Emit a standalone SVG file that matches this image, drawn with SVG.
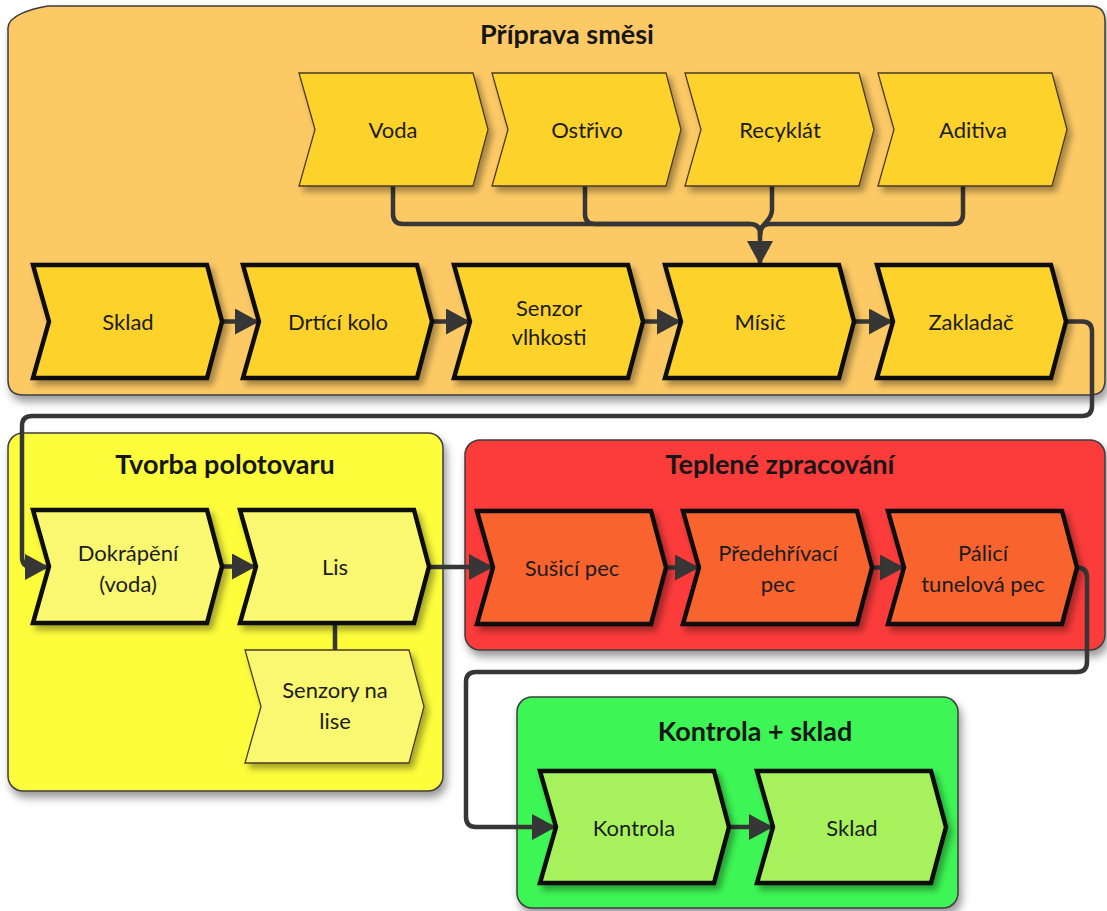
<svg xmlns="http://www.w3.org/2000/svg" width="1107" height="911" viewBox="0 0 1107 911">
  <defs>
    <filter id="shNode" x="-10%" y="-10%" width="130%" height="140%">
      <feDropShadow dx="4" dy="5" stdDeviation="3" flood-color="#000" flood-opacity="0.35"/>
    </filter>
    <filter id="shBox" x="-5%" y="-5%" width="115%" height="120%">
      <feDropShadow dx="3" dy="6" stdDeviation="4" flood-color="#000" flood-opacity="0.4"/>
    </filter>
    <marker id="arr" markerUnits="userSpaceOnUse" markerWidth="24" markerHeight="26" refX="24" refY="13" orient="auto">
      <path d="M0,0 L24,13 L0,26 Z" fill="#363636"/>
    </marker>
    <style>
      .box { stroke: #3c3c3c; stroke-width: 1.5; filter: url(#shBox); }
      .ttl { font-family: Lato, "Liberation Sans", sans-serif; font-weight: bold; font-size: 27px; fill: #161616; text-anchor: middle; }
      .lbl { font-family: Lato, "Liberation Sans", sans-serif; font-size: 22px; fill: #1c1c1c; text-anchor: middle; }
      .thick { stroke: #0d0d0d; stroke-width: 4.5; stroke-linejoin: miter; filter: url(#shNode); }
      .thin { stroke: #4a3a28; stroke-width: 1.3; filter: url(#shNode); }
      .mix { fill: #FDD22B; }
      .pre { fill: #F9F86F; }
      .heat { fill: #F9642F; }
      .chk { fill: #A7F25C; }
      .conn { fill: none; stroke: #363636; stroke-width: 4.5; stroke-linejoin: round; }
    </style>
  </defs>

  <!-- process areas -->
  <g id="area-priprava">
    <path class="box" fill="#FCC965" d="M8,28 C8,16 30,9 48,6 H1090 Q1105,6 1105,21 V380 Q1105,395 1090,395 H23 Q8,395 8,380 Z"/>
    <text class="ttl" x="567" y="44">Příprava směsi</text>
  </g>
  <g id="area-tvorba">
    <rect class="box" fill="#FDFD3A" x="8" y="433" width="435" height="358" rx="15"/>
    <text class="ttl" x="225" y="474">Tvorba polotovaru</text>
  </g>
  <g id="area-teplene">
    <rect class="box" fill="#FC3A3A" x="465" y="440" width="640" height="210" rx="15"/>
    <text class="ttl" x="780" y="474">Teplené zpracování</text>
  </g>
  <g id="area-kontrola">
    <rect class="box" fill="#3DF555" x="517" y="697" width="441" height="211" rx="15"/>
    <text class="ttl" x="755" y="741">Kontrola + sklad</text>
  </g>

  <!-- connectors -->
  <g id="connectors">
    <path class="conn" d="M393,186 V214 Q393,224 403,224 H750 Q760,224 760,234 V265" marker-end="url(#arr)"/>
    <path class="conn" d="M585,186 V214 Q585,224 595,224 H750"/>
    <path class="conn" d="M772,186 V210 C772,222 760,222 760,236"/>
    <path class="conn" d="M963,186 V214 Q963,224 953,224 H770 Q760,224 760,234"/>
    <path class="conn" d="M222,321.5 H259" marker-end="url(#arr)"/>
    <path class="conn" d="M432,321.5 H470" marker-end="url(#arr)"/>
    <path class="conn" d="M643,321.5 H681" marker-end="url(#arr)"/>
    <path class="conn" d="M854,321.5 H893" marker-end="url(#arr)"/>
    <path class="conn" d="M1066,321.5 H1082 Q1092,321.5 1092,331.5 V406 Q1092,416 1082,416 H32 Q22,416 22,426 V557 Q22,567 32,567 H49" marker-end="url(#arr)"/>
    <path class="conn" d="M222,566.5 H256" marker-end="url(#arr)"/>
    <path class="conn" d="M335,623 V650"/>
    <path class="conn" d="M429,567 H493" marker-end="url(#arr)"/>
    <path class="conn" d="M666,567.5 H699" marker-end="url(#arr)"/>
    <path class="conn" d="M872,567.5 H904" marker-end="url(#arr)"/>
    <path class="conn" d="M1077,567.5 Q1087,567.5 1087,577.5 V662 Q1087,672 1077,672 H476 Q466,672 466,682 V817 Q466,827 476,827 H556" marker-end="url(#arr)"/>
    <path class="conn" d="M729,827 H773" marker-end="url(#arr)"/>
  </g>

  <!-- inputs to the mixer -->
  <g id="voda">
    <path class="mix thin" d="M299,73 H473 L488,129.5 L473,186 H299 L315,129.5 Z"/>
    <text class="lbl" x="393" y="138">Voda</text>
  </g>
  <g id="ostrivo">
    <path class="mix thin" d="M492,73 H666 L681,129.5 L666,186 H492 L508,129.5 Z"/>
    <text class="lbl" x="587" y="138">Ostřivo</text>
  </g>
  <g id="recyklat">
    <path class="mix thin" d="M685,73 H859 L874,129.5 L859,186 H685 L701,129.5 Z"/>
    <text class="lbl" x="780" y="138">Recyklát</text>
  </g>
  <g id="aditiva">
    <path class="mix thin" d="M878,73 H1052 L1067,129.5 L1052,186 H878 L894,129.5 Z"/>
    <text class="lbl" x="973" y="138">Aditiva</text>
  </g>

  <!-- mixture preparation line -->
  <g id="sklad-vstup">
    <path class="mix thick" d="M33,265 H207 L222,321.5 L207,378 H33 L49,321.5 Z"/>
    <text class="lbl" x="128" y="330">Sklad</text>
  </g>
  <g id="drtici-kolo">
    <path class="mix thick" d="M243,265 H417 L432,321.5 L417,378 H243 L259,321.5 Z"/>
    <text class="lbl" x="338" y="330">Drtící kolo</text>
  </g>
  <g id="senzor-vlhkosti">
    <path class="mix thick" d="M454,265 H628 L643,321.5 L628,378 H454 L470,321.5 Z"/>
    <text class="lbl" x="549" y="316">Senzor</text>
    <text class="lbl" x="549" y="345">vlhkosti</text>
  </g>
  <g id="misic">
    <path class="mix thick" d="M665,265 H839 L854,321.5 L839,378 H665 L681,321.5 Z"/>
    <text class="lbl" x="760" y="330">Mísič</text>
  </g>
  <g id="zakladac">
    <path class="mix thick" d="M877,265 H1051 L1066,321.5 L1051,378 H877 L893,321.5 Z"/>
    <text class="lbl" x="971" y="330">Zakladač</text>
  </g>

  <!-- semi-product forming -->
  <g id="dokrapeni">
    <path class="pre thick" d="M33,510 H207 L222,566.5 L207,623 H33 L49,566.5 Z"/>
    <text class="lbl" x="128" y="561">Dokrápění</text>
    <text class="lbl" x="128" y="592">(voda)</text>
  </g>
  <g id="lis">
    <path class="pre thick" d="M240,510 H414 L429,566.5 L414,623 H240 L256,566.5 Z"/>
    <text class="lbl" x="335" y="575">Lis</text>
  </g>
  <g id="senzory-lis">
    <path class="pre thin" d="M245,650 H409 L424,706.5 L409,763 H245 L261,706.5 Z"/>
    <text class="lbl" x="335" y="698">Senzory na</text>
    <text class="lbl" x="335" y="729">lise</text>
  </g>

  <!-- heat treatment -->
  <g id="susici-pec">
    <path class="heat thick" d="M477,511 H651 L666,567.5 L651,624 H477 L493,567.5 Z"/>
    <text class="lbl" x="572" y="576">Sušicí pec</text>
  </g>
  <g id="predehrivaci-pec">
    <path class="heat thick" d="M683,511 H857 L872,567.5 L857,624 H683 L699,567.5 Z"/>
    <text class="lbl" x="778" y="561">Předehřívací</text>
    <text class="lbl" x="778" y="592">pec</text>
  </g>
  <g id="palici-pec">
    <path class="heat thick" d="M888,511 H1062 L1077,567.5 L1062,624 H888 L904,567.5 Z"/>
    <text class="lbl" x="983" y="561">Pálicí</text>
    <text class="lbl" x="983" y="592">tunelová pec</text>
  </g>

  <!-- inspection and storage -->
  <g id="kontrola">
    <path class="chk thick" d="M540,771 H714 L729,827 L714,883 H540 L556,827 Z"/>
    <text class="lbl" x="634" y="836">Kontrola</text>
  </g>
  <g id="sklad-vystup">
    <path class="chk thick" d="M757,771 H931 L946,827 L931,883 H757 L773,827 Z"/>
    <text class="lbl" x="852" y="836">Sklad</text>
  </g>
</svg>
